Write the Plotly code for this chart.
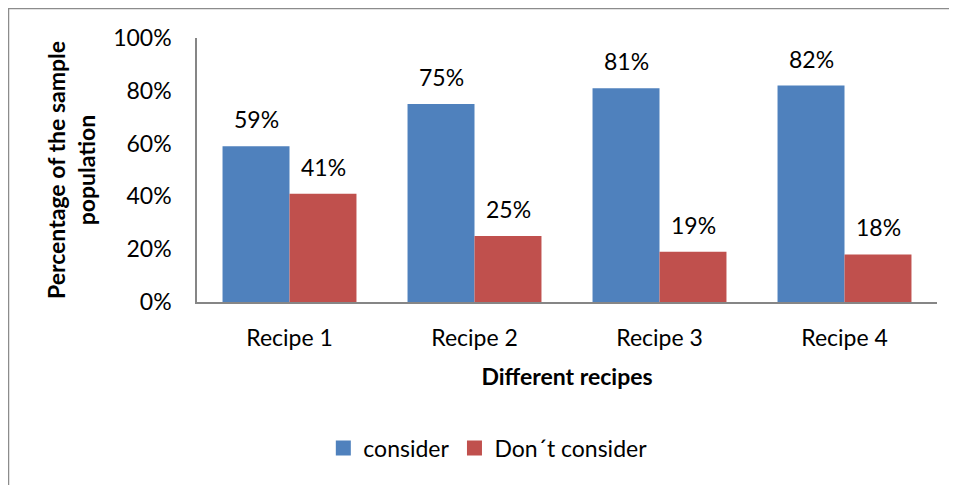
import plotly.graph_objects as go

categories = ["Recipe 1", "Recipe 2", "Recipe 3", "Recipe 4"]
consider = [0.59, 0.75, 0.81, 0.82]
dont_consider = [0.41, 0.25, 0.19, 0.18]
series_names = ["consider", "Don´t consider"]
y_ticks = [0, 0.2, 0.4, 0.6, 0.8, 1.0]
y_tick_labels = ["0%", "20%", "40%", "60%", "80%", "100%"]

FONT = "Lato"
FS = 23
BLUE = "#4F81BD"
RED = "#C0504D"

# figure is placed by the page at an 8px body offset
W, H = 949, 477
L, T, R, B = 189, 30, 20, 183
PW, PH = W - L - R, H - T - B

fig = go.Figure()
for name, vals, col in ((series_names[0], consider, BLUE), (series_names[1], dont_consider, RED)):
    fig.add_trace(go.Bar(x=categories, y=vals, name=name, showlegend=False, legendgroup=name,
                         marker=dict(color=col, line=dict(width=0))))
# legend keys (larger square swatches)
for name, col in ((series_names[0], BLUE), (series_names[1], RED)):
    fig.add_trace(go.Scatter(x=[None], y=[None], mode="markers", name=name, legendgroup=name,
                             marker=dict(symbol="square", size=15, color=col)))

annotations = []
for vals, shift in ((consider, -33.5), (dont_consider, 33.5)):
    for c, v in zip(categories, vals):
        annotations.append(dict(x=c, y=v, xref="x", yref="y", text=f"{round(v*100)}%",
                                showarrow=False, xshift=shift, yshift=27, yanchor="middle",
                                font=dict(family=FONT, size=FS, color="black")))

fig.update_layout(
    width=W, height=H,
    margin=dict(l=L, r=R, t=T, b=B),
    paper_bgcolor="white", plot_bgcolor="white",
    barmode="group", bargap=0.276, bargroupgap=0,
    font=dict(family=FONT, size=FS, color="black"),
    showlegend=True,
    legend=dict(orientation="h", x=0.393, xanchor="center", y=(T + PH - 440) / PH, yanchor="middle",
                font=dict(family=FONT, size=FS), itemsizing="trace", traceorder="normal"),
    annotations=annotations,
    xaxis=dict(showline=True, linecolor="#868686", linewidth=1.5, showgrid=False,
               ticks="", ticklabelstandoff=15,
               tickfont=dict(family=FONT, size=FS),
               title=dict(text="<b>Different recipes</b>", font=dict(family=FONT, size=FS), standoff=19)),
    yaxis=dict(range=[0, 1], tickvals=y_ticks, ticktext=y_tick_labels,
               showline=True, linecolor="#868686", linewidth=1.5, showgrid=False,
               ticks="", ticklabelstandoff=19, zeroline=False,
               tickfont=dict(family=FONT, size=FS),
               title=dict(text="<b>Percentage of the sample<br>population</b>",
                          font=dict(family=FONT, size=FS), standoff=11)),
    shapes=[dict(type="rect", xref="paper", yref="paper",
                 x0=(0.5 - L) / PW, x1=(970 - L) / PW, y0=(T + PH - 500) / PH, y1=(T + PH - 0.5) / PH,
                 line=dict(color="#8c8c8c", width=1.5), fillcolor="rgba(0,0,0,0)", layer="below")],
)

fig.write_html("out.html")
